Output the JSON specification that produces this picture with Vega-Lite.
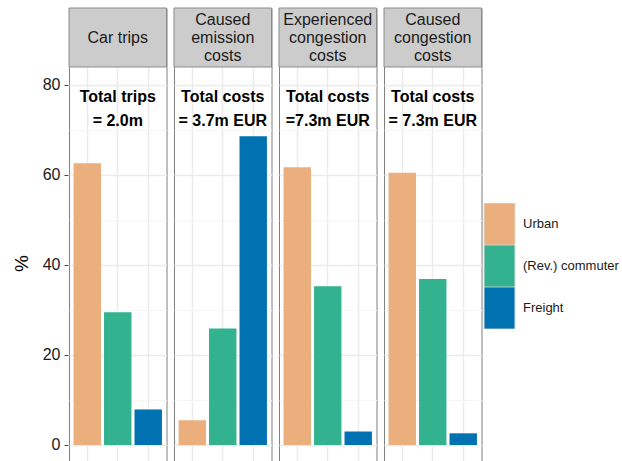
{
  "$schema": "https://vega.github.io/schema/vega-lite/v6.json",
  "padding": {"left": 12, "top": 7, "right": 0, "bottom": 0},
  "background": "white",
  "config": {
    "font": "Liberation Sans",
    "view": {"stroke": "#7f7f7f", "strokeWidth": 1},
    "facet": {"spacing": 5},
    "legend": {"rowPadding": 0}
  },
  "data": {
    "values": [
      {"panel": "Car trips", "group": "Urban", "share": 62.6},
      {"panel": "Car trips", "group": "(Rev.) commuter", "share": 29.5},
      {"panel": "Car trips", "group": "Freight", "share": 7.9},
      {"panel": "Caused\nemission\ncosts", "group": "Urban", "share": 5.5},
      {"panel": "Caused\nemission\ncosts", "group": "(Rev.) commuter", "share": 25.9},
      {"panel": "Caused\nemission\ncosts", "group": "Freight", "share": 68.6},
      {"panel": "Experienced\ncongestion\ncosts", "group": "Urban", "share": 61.7},
      {"panel": "Experienced\ncongestion\ncosts", "group": "(Rev.) commuter", "share": 35.3},
      {"panel": "Experienced\ncongestion\ncosts", "group": "Freight", "share": 3.0},
      {"panel": "Caused\ncongestion\ncosts", "group": "Urban", "share": 60.5},
      {"panel": "Caused\ncongestion\ncosts", "group": "(Rev.) commuter", "share": 36.9},
      {"panel": "Caused\ncongestion\ncosts", "group": "Freight", "share": 2.6},
      {"panel": "Car trips", "note": "Total trips\n= 2.0m"},
      {"panel": "Caused\nemission\ncosts", "note": "Total costs\n= 3.7m EUR"},
      {"panel": "Experienced\ncongestion\ncosts", "note": "Total costs\n=7.3m EUR"},
      {"panel": "Caused\ncongestion\ncosts", "note": "Total costs\n= 7.3m EUR"}
    ]
  },
  "facet": {
    "column": {
      "field": "panel",
      "header": null,
      "title": null,
      "sort": ["Car trips", "Caused\nemission\ncosts", "Experienced\ncongestion\ncosts", "Caused\ncongestion\ncosts"]
    }
  },
  "spec": {
    "width": 97.5,
    "height": 455,
    "layer": [
      {
        "transform": [{"filter": "isValid(datum.group)"}],
        "mark": {"type": "bar"},
        "encoding": {
          "x": {
            "field": "group",
            "type": "nominal",
            "scale": {"domain": ["Urban", "(Rev.) commuter", "Freight"], "paddingInner": 0.1, "paddingOuter": 0.15},
            "axis": {"labels": false, "ticks": false, "domain": false, "title": null, "grid": true, "gridColor": "#ebebeb", "gridWidth": 1.5}
          },
          "y": {
            "field": "share",
            "type": "quantitative",
            "scale": {"domain": [-4, 97.11], "nice": false, "zero": false},
            "axis": {
              "title": "%",
              "titleFontSize": 19,
              "titleFontWeight": "normal",
              "titleColor": "#000000",
              "titlePadding": 11,
              "titleY": 255,
              "values": [0, 10, 20, 30, 40, 50, 60, 70, 80],
              "labelExpr": "datum.value % 20 === 0 ? datum.label : ''",
              "labelFontSize": 16,
              "labelColor": "#1a1a1a",
              "labelPadding": 4,
              "tickSize": 4,
              "tickColor": {"condition": {"test": "datum.value % 20 === 0", "value": "#444444"}, "value": "transparent"},
              "domain": false,
              "grid": true,
              "gridColor": {"condition": {"test": "datum.value % 20 === 0", "value": "#ebebeb"}, "value": "#f5f5f5"},
              "gridWidth": {"condition": {"test": "datum.value % 20 === 0", "value": 1.5}, "value": 1}
            }
          },
          "color": {
            "field": "group",
            "type": "nominal",
            "scale": {"domain": ["Urban", "(Rev.) commuter", "Freight"], "range": ["#ebae7d", "#32b28f", "#0072b2"]},
            "legend": {
              "title": null,
              "orient": "none",
              "legendX": 410,
              "legendY": 195,
              "symbolType": "M-0.775,-1.055H0.775V1.055H-0.775Z",
              "symbolSize": 1600,
              "symbolStrokeColor": "#dddddd",
              "symbolStrokeWidth": 1,
              "symbolOpacity": 1,
              "rowPadding": 0,
              "clipHeight": 42,
              "labelFontSize": 13,
              "labelColor": "#1a1a1a",
              "labelOffset": 3,
              "labelLimit": 200
            }
          }
        }
      },
      {
        "transform": [{"filter": "isValid(datum.note)"}],
        "mark": {"type": "text", "lineBreak": "\n", "fontSize": 16, "fontWeight": "bold", "lineHeight": 24, "baseline": "middle", "align": "center", "color": "#000000"},
        "encoding": {
          "text": {"field": "note"},
          "y": {"datum": 77.33, "type": "quantitative"}
        }
      },
      {
        "transform": [{"filter": "isValid(datum.note)"}],
        "mark": {"type": "rect", "fill": "#cccccc", "stroke": "#8a8a8a", "strokeWidth": 1},
        "encoding": {
          "y": {"datum": 84, "type": "quantitative"},
          "y2": {"datum": 97.11}
        }
      },
      {
        "transform": [{"filter": "isValid(datum.note) && indexof(datum.panel, '\\n') < 0"}],
        "mark": {"type": "text", "fontSize": 16, "baseline": "middle", "align": "center", "color": "#1a1a1a"},
        "encoding": {
          "text": {"field": "panel"},
          "y": {"datum": 90.55, "type": "quantitative"}
        }
      },
      {
        "transform": [{"filter": "isValid(datum.note) && indexof(datum.panel, '\\n') >= 0"}],
        "mark": {"type": "text", "lineBreak": "\n", "fontSize": 16, "lineHeight": 18, "baseline": "middle", "align": "center", "color": "#1a1a1a"},
        "encoding": {
          "text": {"field": "panel"},
          "y": {"datum": 94.44, "type": "quantitative"}
        }
      }
    ]
  }
}
